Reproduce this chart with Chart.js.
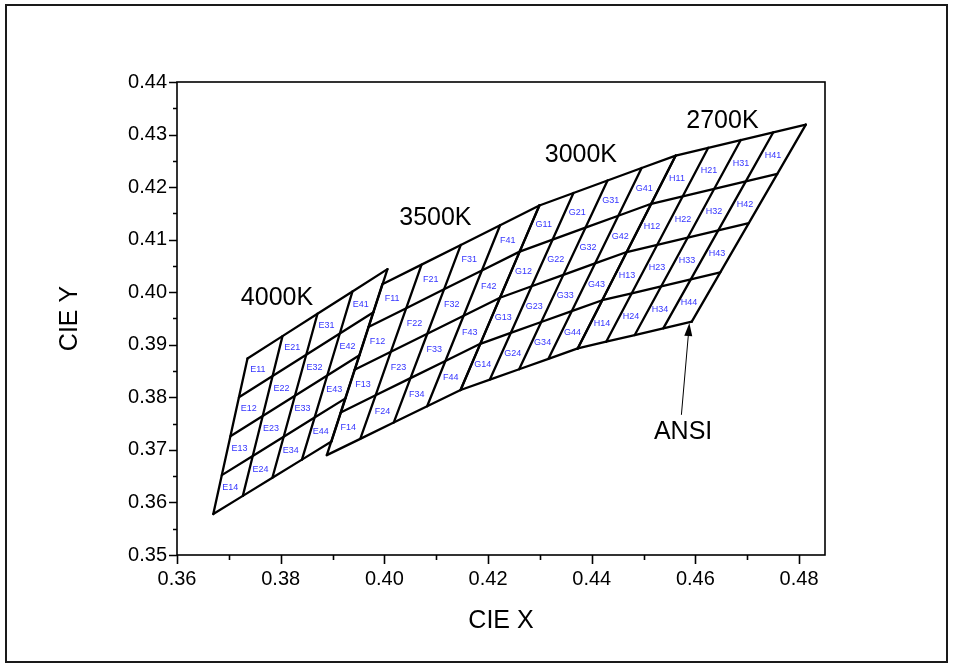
<!DOCTYPE html>
<html><head><meta charset="utf-8">
<script src="https://cdn.jsdelivr.net/npm/chart.js@4/dist/chart.umd.min.js"></script>
<style>html,body{margin:0;padding:0;background:#fff;overflow:hidden;} #wrap{width:953px;height:666px;position:relative;}</style>
</head><body><div id="wrap"><canvas id="c" width="953" height="666"></canvas></div>
<script>
// ---------- DATA ----------
const cctNames = ['4000K', '3500K', '3000K', '2700K'];
const binLetters = ['E', 'F', 'G', 'H'];

// 5x5 grid vertices of each ANSI quadrangle (rows top->bottom, columns left->right)
const grid4000X = [
  [0.3736, 0.38035, 0.3871, 0.39385, 0.4006],
  [0.37195, 0.37844, 0.38493, 0.39141, 0.3979],
  [0.3703, 0.37653, 0.38275, 0.38898, 0.3952],
  [0.36865, 0.37461, 0.38058, 0.38654, 0.3925],
  [0.3670, 0.3727, 0.3784, 0.3841, 0.3898]
];
const grid4000Y = [
  [0.3874, 0.39165, 0.3959, 0.40015, 0.4044],
  [0.3800, 0.38405, 0.3881, 0.39215, 0.3962],
  [0.3726, 0.37645, 0.3803, 0.38415, 0.3880],
  [0.3652, 0.36885, 0.3725, 0.37615, 0.3798],
  [0.3578, 0.36125, 0.3647, 0.36815, 0.3716]
];
const grid3500X = [
  [0.3996, 0.40718, 0.41475, 0.42233, 0.4299],
  [0.39693, 0.40422, 0.41151, 0.41881, 0.4261],
  [0.39425, 0.40126, 0.40828, 0.41529, 0.4223],
  [0.39158, 0.39831, 0.40504, 0.41177, 0.4185],
  [0.3889, 0.39535, 0.4018, 0.40825, 0.4147]
];
const grid3500Y = [
  [0.4015, 0.40525, 0.4090, 0.41275, 0.4165],
  [0.39338, 0.39696, 0.40055, 0.40414, 0.40773],
  [0.38525, 0.38868, 0.3921, 0.39553, 0.39895],
  [0.37713, 0.38039, 0.38365, 0.38691, 0.39018],
  [0.3690, 0.3721, 0.3752, 0.3783, 0.3814]
];
const grid3000X = [
  [0.4299, 0.43648, 0.44305, 0.44963, 0.4562],
  [0.4261, 0.43244, 0.43879, 0.44513, 0.45148],
  [0.4223, 0.42841, 0.43453, 0.44064, 0.44675],
  [0.4185, 0.42438, 0.43026, 0.43614, 0.44203],
  [0.4147, 0.42035, 0.4260, 0.43165, 0.4373]
];
const grid3000Y = [
  [0.4165, 0.41888, 0.42125, 0.42363, 0.4260],
  [0.40773, 0.4100, 0.41228, 0.41455, 0.41683],
  [0.39895, 0.40113, 0.4033, 0.40548, 0.40765],
  [0.39018, 0.39225, 0.39433, 0.3964, 0.39848],
  [0.3814, 0.38338, 0.38535, 0.38733, 0.3893]
];
const grid2700X = [
  [0.4562, 0.46248, 0.46875, 0.47503, 0.4813],
  [0.45148, 0.45756, 0.46364, 0.46972, 0.4758],
  [0.44675, 0.45264, 0.45853, 0.46441, 0.4703],
  [0.44203, 0.44772, 0.45341, 0.45911, 0.4648],
  [0.4373, 0.4428, 0.4483, 0.4538, 0.4593]
];
const grid2700Y = [
  [0.4260, 0.42748, 0.42895, 0.43043, 0.4319],
  [0.41683, 0.41825, 0.41968, 0.4211, 0.42253],
  [0.40765, 0.40903, 0.4104, 0.41178, 0.41315],
  [0.39848, 0.3998, 0.40113, 0.40245, 0.40378],
  [0.3893, 0.39058, 0.39185, 0.39313, 0.3944]
];

// CCT name label anchors (data coords)
const cctLabelX = [0.37929, 0.40984, 0.43791, 0.46521];
const cctLabelY = [0.39905, 0.41429, 0.42634, 0.43270];
// ANSI annotation
const ansiText = 'ANSI';
const ansiLabelX = 0.45763, ansiLabelY = 0.37362;
const ansiArrowFrom = [0.45730, 0.37667];
const ansiArrowTo = [0.45884, 0.39413];

// axes
const xTickValues = [0.36, 0.38, 0.40, 0.42, 0.44, 0.46, 0.48];
const xMinorValues = [0.37, 0.39, 0.41, 0.43, 0.45, 0.47];
const yTickValues = [0.35, 0.36, 0.37, 0.38, 0.39, 0.40, 0.41, 0.42, 0.43, 0.44];
const yMinorValues = [0.355, 0.365, 0.375, 0.385, 0.395, 0.405, 0.415, 0.425, 0.435];
const xTitle = 'CIE X', yTitle = 'CIE Y';

// ---------- BUILD ----------
const grids = [
  {xs: grid4000X, ys: grid4000Y},
  {xs: grid3500X, ys: grid3500Y},
  {xs: grid3000X, ys: grid3000Y},
  {xs: grid2700X, ys: grid2700Y}
];
const FONT = "'Liberation Sans', Arial, sans-serif";
const LINE_W = 2.3;
function lineDs(data) {
  return {data, showLine: true, borderColor: '#000', borderWidth: LINE_W, pointRadius: 0,
          pointHoverRadius: 0, fill: false, tension: 0, borderCapStyle: 'round', borderJoinStyle: 'miter'};
}
const datasets = [];
grids.forEach(g => {
  for (let r = 0; r < 5; r++) datasets.push(lineDs(g.xs[r].map((x, c) => ({x, y: g.ys[r][c]}))));
  for (let c = 0; c < 5; c++) datasets.push(lineDs(g.xs.map((row, r) => ({x: row[c], y: g.ys[r][c]}))));
});

const decor = {
  id: 'decor',
  beforeDraw(chart) {
    const ctx = chart.ctx;
    ctx.save();
    ctx.fillStyle = '#fff';
    ctx.fillRect(0, 0, chart.width, chart.height);
    ctx.strokeStyle = '#1a1a1a';
    ctx.lineWidth = 2;
    ctx.strokeRect(6, 5, 941, 657);
    ctx.restore();
  },
  afterDatasetsDraw(chart) {
    const ctx = chart.ctx, xs = chart.scales.x, ys = chart.scales.y, a = chart.chartArea;
    ctx.save();
    // frame
    ctx.strokeStyle = '#000';
    ctx.lineWidth = 1.6;
    ctx.strokeRect(a.left, a.top, a.right - a.left, a.bottom - a.top);
    // ticks
    ctx.lineWidth = 1.6;
    ctx.beginPath();
    xTickValues.forEach(v => { const p = Math.round(xs.getPixelForValue(v)) + 0.5; ctx.moveTo(p, a.bottom); ctx.lineTo(p, a.bottom + 9); });
    xMinorValues.forEach(v => { const p = Math.round(xs.getPixelForValue(v)) + 0.5; ctx.moveTo(p, a.bottom); ctx.lineTo(p, a.bottom + 5); });
    yTickValues.forEach(v => { const p = Math.round(ys.getPixelForValue(v)) + 0.5; ctx.moveTo(a.left, p); ctx.lineTo(a.left - 8, p); });
    yMinorValues.forEach(v => { const p = Math.round(ys.getPixelForValue(v)) + 0.5; ctx.moveTo(a.left, p); ctx.lineTo(a.left - 4, p); });
    ctx.stroke();

    // cell labels
    ctx.fillStyle = '#3535ff';
    ctx.font = '9px ' + FONT;
    ctx.textAlign = 'center';
    ctx.textBaseline = 'middle';
    grids.forEach((g, k) => {
      for (let c = 0; c < 4; c++) for (let r = 0; r < 4; r++) {
        const cx = (g.xs[r][c] + g.xs[r][c+1] + g.xs[r+1][c] + g.xs[r+1][c+1]) / 4;
        const cy = (g.ys[r][c] + g.ys[r][c+1] + g.ys[r+1][c] + g.ys[r+1][c+1]) / 4;
        ctx.fillText(binLetters[k] + (c + 1) + (r + 1), xs.getPixelForValue(cx) - 2.5, ys.getPixelForValue(cy) + 2.5);
      }
    });
    // CCT names
    ctx.fillStyle = '#000';
    ctx.font = '25px ' + FONT;
    cctNames.forEach((n, i) => ctx.fillText(n, xs.getPixelForValue(cctLabelX[i]), ys.getPixelForValue(cctLabelY[i]) + 1));
    ctx.fillText(ansiText, xs.getPixelForValue(ansiLabelX), ys.getPixelForValue(ansiLabelY) + 1);
    // arrow
    const x0 = xs.getPixelForValue(ansiArrowFrom[0]), y0 = ys.getPixelForValue(ansiArrowFrom[1]);
    const x1 = xs.getPixelForValue(ansiArrowTo[0]), y1 = ys.getPixelForValue(ansiArrowTo[1]);
    const ang = Math.atan2(y1 - y0, x1 - x0), hl = 13, hw = 4;
    const bx = x1 - hl * Math.cos(ang), by = y1 - hl * Math.sin(ang);
    ctx.strokeStyle = '#000'; ctx.lineWidth = 1;
    ctx.beginPath(); ctx.moveTo(x0, y0); ctx.lineTo(bx, by); ctx.stroke();
    ctx.beginPath();
    ctx.moveTo(x1, y1);
    ctx.lineTo(bx + hw * Math.sin(ang), by - hw * Math.cos(ang));
    ctx.lineTo(bx - hw * Math.sin(ang), by + hw * Math.cos(ang));
    ctx.closePath(); ctx.fill();
    // axis titles
    ctx.font = '25px ' + FONT;
    ctx.fillText(xTitle, (a.left + a.right) / 2, 621);
    ctx.save();
    ctx.translate(70, (a.top + a.bottom) / 2);
    ctx.rotate(-Math.PI / 2);
    ctx.fillText(yTitle, 0, 0);
    ctx.restore();
    ctx.restore();
  }
};

new Chart(document.getElementById('c'), {
  type: 'scatter',
  data: {datasets},
  options: {
    responsive: false,
    animation: false,
    devicePixelRatio: 1,
    layout: {padding: {left: 0, top: 82, right: 128, bottom: 0}},
    plugins: {legend: {display: false}, tooltip: {enabled: false}},
    events: [],
    scales: {
      x: {
        type: 'linear', min: 0.36, max: 0.485,
        grid: {display: false, drawTicks: false},
        border: {display: false},
        afterBuildTicks: s => { s.ticks = xTickValues.map(v => ({value: v})); },
        afterFit: s => { s.height = 111; },
        ticks: {autoSkip: false, maxRotation: 0, padding: 12, color: '#000',
                font: {family: FONT, size: 20}, callback: v => Number(v).toFixed(2)}
      },
      y: {
        type: 'linear', min: 0.35, max: 0.44,
        grid: {display: false, drawTicks: false},
        border: {display: false},
        afterBuildTicks: s => { s.ticks = yTickValues.map(v => ({value: v})); },
        afterFit: s => { s.width = 177; },
        ticks: {autoSkip: false, padding: 10, color: '#000',
                font: {family: FONT, size: 20}, callback: v => Number(v).toFixed(2)}
      }
    }
  },
  plugins: [decor]
});
</script></body></html>
